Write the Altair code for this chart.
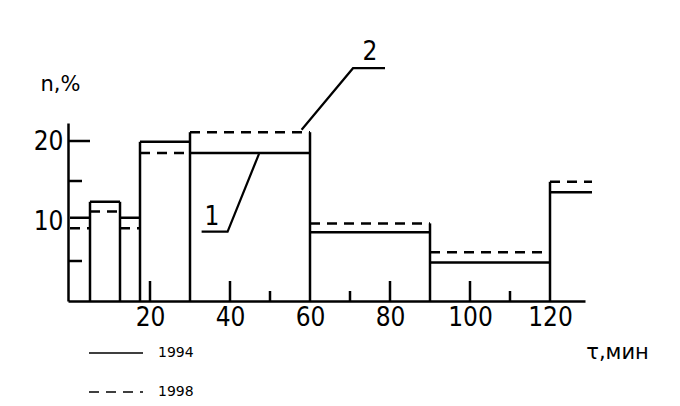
import altair as alt
import pandas as pd

# ---- data ----
edges = [0, 5, 12.5, 17.5, 30, 60, 90, 120, 130.5]          # interval bounds, min
share_1994 = [10.4, 12.4, 10.4, 19.9, 18.5, 8.6, 4.8, 13.6]  # n, %
share_1998 = [9.1, 11.2, 9.1, 18.5, 21.1, 9.7, 6.1, 14.9]    # n, %
series_names = ["1994", "1998"]

x_labels = [20, 40, 60, 80, 100, 120]
y_labels = [10, 20]
x_major_ticks = [20, 40, 80, 100]
x_minor_ticks = [50, 70, 110]
y_major_ticks = [20]
y_minor_ticks = [5, 15]

# callouts
callout_names = ["1", "2"]
callout_text_x = [35.5, 75]
callout_text_y = [10.5, 31.1]
leader1_x = [47.25, 39.4, 32.9]
leader1_y = [18.4, 8.66, 8.66]
leader2_x = [57.9, 70.75, 78.75]
leader2_y = [21.4, 29.1, 29.1]

# ---- tables ----
rows = []
for name, vals in zip(series_names, [share_1994, share_1998]):
    for i, v in enumerate(vals):
        rows.append({"start": edges[i], "end": edges[i + 1], "value": v, "series": name})
seg_df = pd.DataFrame(rows)

vert_rows = []
for i in range(1, len(edges) - 1):
    top = max(share_1994[i - 1], share_1994[i], share_1998[i - 1], share_1998[i])
    vert_rows.append({"edge": edges[i], "top": top})
vert_df = pd.DataFrame(vert_rows)

lead_rows = []
for name, lx, ly in [("1", leader1_x, leader1_y), ("2", leader2_x, leader2_y)]:
    for k, (a, b) in enumerate(zip(lx, ly)):
        lead_rows.append({"label": name, "idx": k, "x": a, "y": b})
lead_df = pd.DataFrame(lead_rows)

txt_df = pd.DataFrame({"label": callout_names, "x": callout_text_x, "y": callout_text_y})

W, H = 517, 178
NARROW = "Liberation Sans Narrow, DejaVu Sans Condensed, sans-serif"
xs = alt.Scale(domain=[-0.5, 128.75], nice=False, zero=False)
ys = alt.Scale(domain=[0, 22.25], nice=False, zero=False)

x_axis = alt.Axis(
    values=x_labels, ticks=False, grid=False, domainColor="black", domainWidth=2.5,
    labelFont=NARROW, labelFontSize=26, labelColor="black", labelPadding=3,
    title="τ,мин", titleX=549, titleY=51, titleAlign="center", titleBaseline="middle",
    titleFont="DejaVu Sans", titleFontSize=21, titleFontWeight="normal", titleColor="black")
y_axis = alt.Axis(
    values=y_labels, ticks=False, grid=False, domainColor="black", domainWidth=2.5,
    labelFont=NARROW, labelFontSize=26, labelColor="black", labelPadding=5,
    title="n,%", titleAngle=0, titleX=-8, titleY=-39, titleAlign="center",
    titleBaseline="middle", titleFont="DejaVu Sans", titleFontSize=21,
    titleFontWeight="normal", titleColor="black")

steps = alt.Chart(seg_df).mark_rule(strokeWidth=2.5, color="black").encode(
    x=alt.X("start:Q", scale=xs, axis=x_axis, title="τ,мин"),
    x2="end:Q",
    y=alt.Y("value:Q", scale=ys, axis=y_axis, title="n,%"),
    strokeDash=alt.StrokeDash("series:N", scale=alt.Scale(domain=series_names, range=[[1, 0], [10, 7]]),
        legend=alt.Legend(orient="none", legendX=20, legendY=202, title=None, padding=0,
                          symbolType="stroke", symbolSize=2916, symbolStrokeWidth=1.5,
                          symbolStrokeColor="black", labelFont="DejaVu Sans", labelFontSize=14,
                          labelColor="black", labelOffset=14, rowPadding=4)),
)

verts = alt.Chart(vert_df).mark_rule(strokeWidth=2.5, color="black").encode(
    x=alt.X("edge:Q", scale=xs, axis=x_axis, title="τ,мин"),
    y=alt.Y("top:Q", scale=ys, axis=y_axis, title="n,%"),
    y2=alt.datum(0),
)

xmaj = alt.Chart(pd.DataFrame({"t": x_major_ticks})).mark_rule(strokeWidth=2.5, color="black").encode(
    x=alt.X("t:Q", scale=xs, axis=x_axis, title="τ,мин"), y=alt.value(H), y2=alt.value(H - 20))
xmin = alt.Chart(pd.DataFrame({"t": x_minor_ticks})).mark_rule(strokeWidth=2.5, color="black").encode(
    x=alt.X("t:Q", scale=xs, axis=x_axis, title="τ,мин"), y=alt.value(H), y2=alt.value(H - 10))
ymaj = alt.Chart(pd.DataFrame({"t": y_major_ticks})).mark_rule(strokeWidth=2.5, color="black").encode(
    y=alt.Y("t:Q", scale=ys, axis=y_axis, title="n,%"), x=alt.value(0), x2=alt.value(22))
ymin = alt.Chart(pd.DataFrame({"t": y_minor_ticks})).mark_rule(strokeWidth=2.5, color="black").encode(
    y=alt.Y("t:Q", scale=ys, axis=y_axis, title="n,%"), x=alt.value(0), x2=alt.value(14))

leaders = alt.Chart(lead_df).mark_line(strokeWidth=2.2, color="black").encode(
    x=alt.X("x:Q", scale=xs, axis=x_axis, title="τ,мин"),
    y=alt.Y("y:Q", scale=ys, axis=y_axis, title="n,%"),
    detail="label:N",
    order="idx:Q",
)
labels = alt.Chart(txt_df).mark_text(font=NARROW, fontSize=26, color="black").encode(
    x=alt.X("x:Q", scale=xs, axis=x_axis, title="τ,мин"),
    y=alt.Y("y:Q", scale=ys, axis=y_axis, title="n,%"),
    text="label:N",
)

chart = alt.layer(steps, verts, xmaj, xmin, ymaj, ymin, leaders, labels).properties(
    width=W, height=H,
    padding={"left": 60, "top": 115, "right": 87, "bottom": 97},
    autosize=alt.AutoSizeParams(type="none"),
    background="white",
).configure_view(stroke=None)

chart.save("out.html", embed_options={"renderer": "svg", "actions": False})
